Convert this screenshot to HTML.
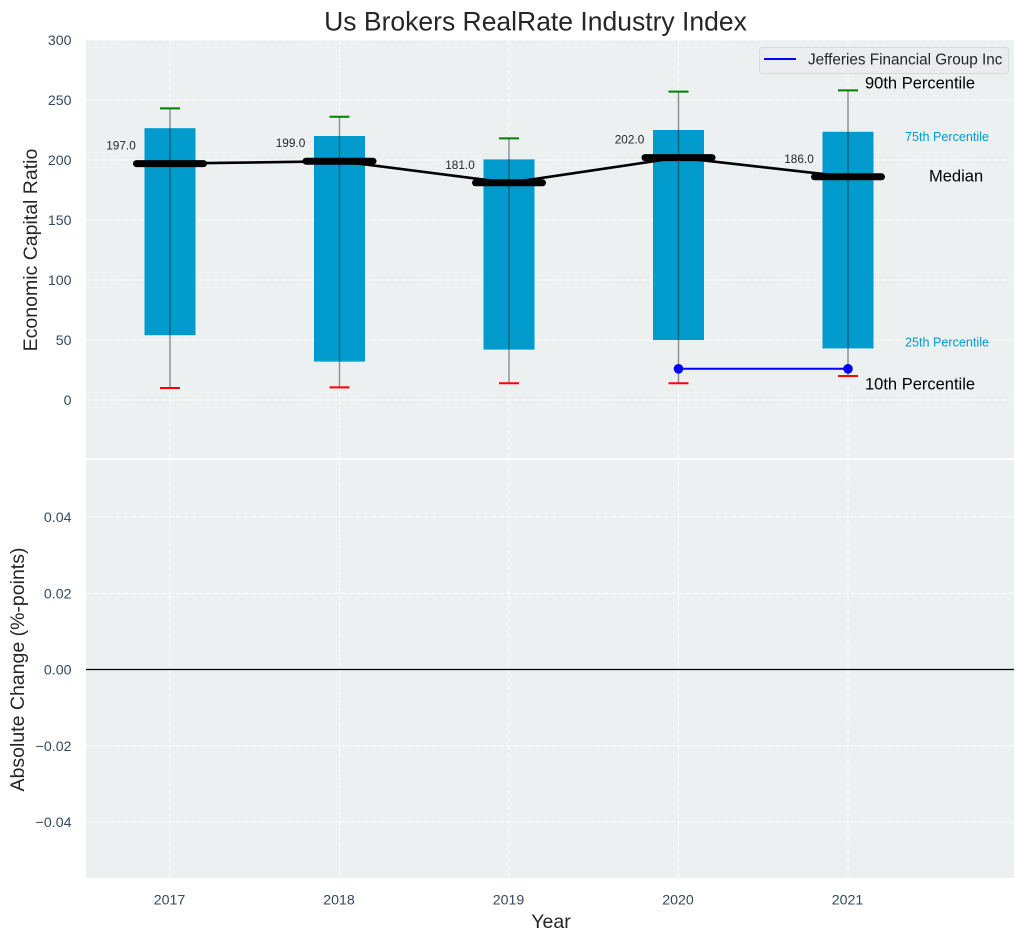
<!DOCTYPE html>
<html>
<head>
<meta charset="utf-8">
<title>Us Brokers RealRate Industry Index</title>
<style>
html,body{margin:0;padding:0;background:#fff;}
svg{display:block;font-family:"Liberation Sans",Arial,sans-serif;}
</style>
</head>
<body>
<svg id="chart" xmlns="http://www.w3.org/2000/svg" width="1025" height="940" viewBox="0 0 1025 940"></svg>
<script>
const years = [2017, 2018, 2019, 2020, 2021];
const p90 = [243, 236, 218, 257, 258];
const p75 = [226.5, 220, 200.5, 225, 223.5];
const median = [197, 199, 181, 202, 186];
const p25 = [54, 32, 42, 50, 43];
const p10 = [10, 10.5, 14, 14, 20];
const companyYears = [2020, 2021];
const companyValues = [26, 26];
const companyName = 'Jefferies Financial Group Inc';
const topTicks = [0, 50, 100, 150, 200, 250, 300];
const bottomTicks = [-0.04, -0.02, 0, 0.02, 0.04];

const svg = document.getElementById('chart');
const NS = 'http://www.w3.org/2000/svg';
const PL = 86, PR = 1014;
const T1 = 40, B1 = 458, T2 = 460, B2 = 878;
const INK = '#34495e', DARK = '#262626';

function xs(v) { return 170 + (v - 2017) * 169.5; }
function yTop(v) { return 400 - v * 1.2; }
function yBot(v) { return 669.5 - v * 3812.5; }

function mk(tag, attrs, parent) {
  const el = document.createElementNS(NS, tag);
  for (const k in attrs) el.setAttribute(k, attrs[k]);
  (parent || svg).appendChild(el);
  return el;
}
function label(str, x, y, size, fill, anchor, parent) {
  const el = mk('text', {x: x, y: y, 'font-size': size, fill: fill, 'text-anchor': anchor || 'middle', 'dominant-baseline': 'central'}, parent);
  el.textContent = str;
  return el;
}
function fmtBottom(v) {
  if (v === 0) return '0.00';
  return (v < 0 ? '\u2212' : '') + Math.abs(v).toFixed(2);
}

// panels
const panelTop = mk('rect', {x: PL, y: T1, width: PR - PL, height: B1 - T1, fill: '#ecf0f1'});


const panelBottom = mk('rect', {x: PL, y: T2, width: PR - PL, height: B2 - T2, fill: '#ecf0f1'});



// grid + y ticks
topTicks.forEach(function (t) {
  const g = mk('line', {x1: PL, x2: PR, y1: yTop(t), y2: yTop(t), stroke: '#fff', 'stroke-width': 1, 'stroke-dasharray': '5 2.5', opacity: 0.9});
  
  
  const l = label(String(t), 71.5, yTop(t) + 1, 14.2, INK, 'end');
  
  
});
bottomTicks.forEach(function (t) {
  const g = mk('line', {x1: PL, x2: PR, y1: yBot(t), y2: yBot(t), stroke: '#fff', 'stroke-width': 1, 'stroke-dasharray': '5 2.5', opacity: 0.9});
  
  
  const l = label(fmtBottom(t), 71.5, yBot(t) + 1, 14.2, INK, 'end');
  
  
});
years.forEach(function (yr) {
  const a = mk('line', {x1: xs(yr), x2: xs(yr), y1: T1, y2: B1, stroke: '#fff', 'stroke-width': 1, 'stroke-dasharray': '5 2.5', opacity: 0.9});
  
  
  const b = mk('line', {x1: xs(yr), x2: xs(yr), y1: T2, y2: B2, stroke: '#fff', 'stroke-width': 1, 'stroke-dasharray': '5 2.5', opacity: 0.9});
  
  
  const l = label(String(yr), xs(yr) - 0.5, 900.5, 14.2, INK, 'middle');
  
  
});

// zero line
const zero = mk('line', {x1: PL, x2: PR, y1: yBot(0), y2: yBot(0), stroke: '#000', 'stroke-width': 1.3});



// IQR bars
years.forEach(function (yr, i) {
  const bar = mk('rect', {x: xs(yr) - 25.5, y: yTop(p75[i]), width: 51, height: yTop(p25[i]) - yTop(p75[i]), fill: '#009bcd'});
  
  
});

// whiskers and caps
years.forEach(function (yr, i) {
  const w = mk('line', {x1: xs(yr), x2: xs(yr), y1: yTop(p90[i]), y2: yTop(p10[i]), stroke: '#262626', 'stroke-width': 1.4, opacity: 0.5});
  
  
  const c1 = mk('line', {x1: xs(yr) - 10, x2: xs(yr) + 10, y1: yTop(p90[i]), y2: yTop(p90[i]), stroke: '#008000', 'stroke-width': 2});
  
  
  const c2 = mk('line', {x1: xs(yr) - 10, x2: xs(yr) + 10, y1: yTop(p10[i]), y2: yTop(p10[i]), stroke: '#ff0000', 'stroke-width': 2});
  
  
});

// median line
const medPts = years.map(function (yr, i) { return xs(yr) + ',' + yTop(median[i]); }).join(' ');
const medLine = mk('polyline', {points: medPts, fill: 'none', stroke: '#000', 'stroke-width': 2.6});



years.forEach(function (yr, i) {
  const m = mk('line', {x1: xs(yr) - 33.5, x2: xs(yr) + 33.5, y1: yTop(median[i]), y2: yTop(median[i]), stroke: '#000', 'stroke-width': 7, 'stroke-linecap': 'round'});
  
  
  const t = label(median[i].toFixed(1), xs(yr) - 49, yTop(median[i]) - 18, 11.8, DARK, 'middle');
  
  
});

// company series
const compPts = companyYears.map(function (yr, i) { return xs(yr) + ',' + yTop(companyValues[i]); }).join(' ');
const compLine = mk('polyline', {points: compPts, fill: 'none', stroke: '#0000ff', 'stroke-width': 2});


companyYears.forEach(function (yr, i) {
  const d = mk('circle', {cx: xs(yr), cy: yTop(companyValues[i]), r: 4.8, fill: '#0000ff'});
  
  
});

// right-hand percentile annotations, anchored to last year's values
const last = years.length - 1;
const xLast = xs(years[last]);
const a90 = label('90th Percentile', xLast + 17, yTop(p90[last]) - 7, 16.5, '#000', 'start');


const a75 = label('75th Percentile', xLast + 57, yTop(p75[last]) + 5.2, 12.6, '#009bcd', 'start');


const a50 = label('Median', xLast + 81, yTop(median[last]) - 0.5, 16.5, '#000', 'start');


const a25 = label('25th Percentile', xLast + 57, yTop(p25[last]) - 6, 12.6, '#009bcd', 'start');


const a10 = label('10th Percentile', xLast + 17, yTop(p10[last]) + 8.5, 16.5, '#000', 'start');



// legend
const legend = mk('g', {});


mk('rect', {x: 759.5, y: 47.5, width: 249, height: 26, rx: 3, fill: '#eaecf0', stroke: '#d6dadd', 'stroke-width': 1}, legend);
const legLine = mk('line', {x1: 764, x2: 796, y1: 59, y2: 59, stroke: '#0000ff', 'stroke-width': 2}, legend);


const legText = label(companyName, 808, 60, 15.3, DARK, 'start', legend);



// titles
const title = label('Us Brokers RealRate Industry Index', 535.5, 21.5, 26.5, DARK, 'middle');


const xTitle = label('Year', 551, 922, 19.5, DARK, 'middle');


const yTitle1 = label('Economic Capital Ratio', 0, 0, 19.5, DARK, 'middle');
yTitle1.setAttribute('transform', 'translate(31,250) rotate(-90)');


const yTitle2 = label('Absolute Change (%-points)', 0, 0, 19.5, DARK, 'middle');
yTitle2.setAttribute('transform', 'translate(18,669.5) rotate(-90)');


</script>
</body>
</html>
